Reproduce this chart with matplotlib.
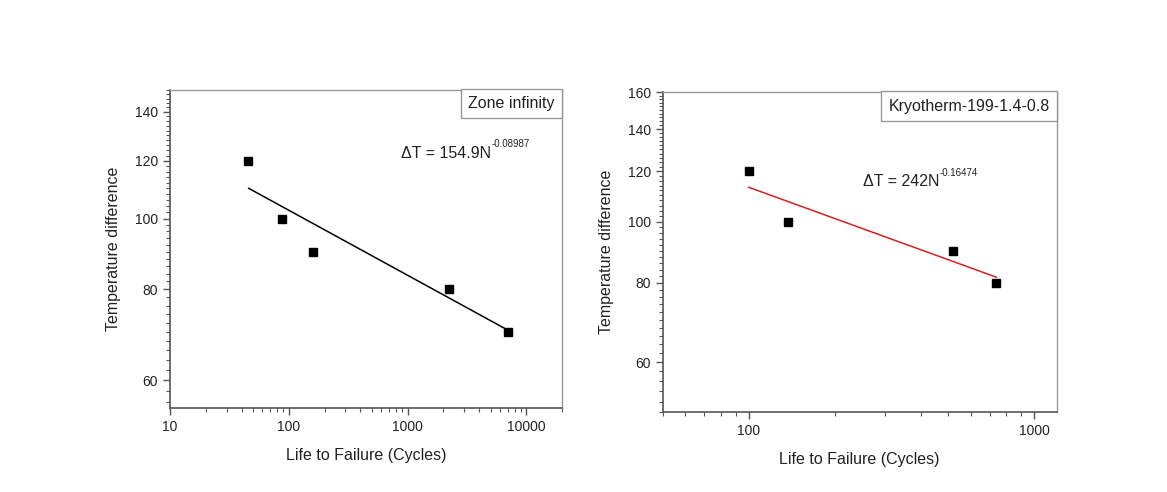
import numpy as np
import matplotlib
matplotlib.use("Agg")
import matplotlib.pyplot as plt
from matplotlib.ticker import FixedLocator, MultipleLocator, NullFormatter, FuncFormatter

plt.rcParams['font.family'] = ['Liberation Sans', 'DejaVu Sans']

# =============================
# DATA
# =============================
zone_cycles = [45.5, 88, 160, 2230, 7000]
zone_dt = [120, 100, 90, 80, 70]
zone_fit_x = [46, 6800]
zone_fit_y = [110, 70.5]

kryo_cycles = [100, 137, 520, 738]
kryo_dt = [120, 100, 90, 80]
kryo_fit_x = [100, 738]
kryo_fit_y = [113.3, 81.7]

zone_yticks = [60, 80, 100, 120, 140]
kryo_yticks = [60, 80, 100, 120, 140, 160]

# =============================
# FIGURE
# =============================
fig = plt.figure(figsize=(11.67, 4.92), dpi=100)
ax1 = fig.add_axes([0.1457, 0.1707, 0.3359, 0.6463])
ax2 = fig.add_axes([0.5679, 0.1620, 0.3376, 0.6504])

spine_col = "#555555"
text_col = "#222222"
plain = FuncFormatter(lambda v, p: f"{v:g}")


def style(ax, xlim, ylim, yticks):
    ax.set_xscale("log")
    ax.set_yscale("log")
    ax.set_xlim(*xlim)
    ax.set_ylim(*ylim)
    ax.yaxis.set_major_locator(FixedLocator(yticks))
    ax.yaxis.set_major_formatter(plain)
    ax.yaxis.set_minor_locator(MultipleLocator(2))
    ax.yaxis.set_minor_formatter(NullFormatter())
    ax.xaxis.set_major_formatter(plain)
    ax.xaxis.set_minor_formatter(NullFormatter())
    ax.tick_params(which="major", direction="out", length=5, width=1,
                   color=spine_col, labelsize=10, labelcolor=text_col)
    ax.tick_params(which="minor", direction="out", length=3, width=0.8,
                   color=spine_col)
    ax.tick_params(top=False, right=False, which="both")
    for s in ["left", "bottom"]:
        ax.spines[s].set_color(spine_col)
        ax.spines[s].set_linewidth(1.2)
    for s in ["top", "right"]:
        ax.spines[s].set_color("#999999")
        ax.spines[s].set_linewidth(1.0)
    ax.set_xlabel("Life to Failure (Cycles)", fontsize=11.5, color=text_col, labelpad=10)
    ax.set_ylabel("Temperature difference", fontsize=11.5, color=text_col, labelpad=10)


def equation(ax, x, y, base, power):
    t = ax.text(x, y, base, transform=ax.transAxes, fontsize=11.5,
                color=text_col, va="center")
    ax.annotate(power, xy=(1, 0.78), xycoords=t, xytext=(0.5, 0),
                textcoords="offset points", fontsize=7, color=text_col,
                va="bottom", ha="left")


def label_box(ax, txt, x):
    ax.text(x, 0.957, txt, transform=ax.transAxes, fontsize=11.5,
            ha="right", va="center", color=text_col,
            bbox=dict(boxstyle="square,pad=0.45", fc="white", ec="#999999", lw=1))


# -----------------------------
# LEFT: Zone infinity
# -----------------------------
style(ax1, (10, 20000), (55, 150), zone_yticks)
ax1.plot(zone_fit_x, zone_fit_y, color="black", lw=1.1)
ax1.plot(zone_cycles, zone_dt, "s", color="black", ms=6)
equation(ax1, 0.590, 0.80, "\u0394T = 154.9N", "-0.08987")
label_box(ax1, "Zone infinity", 0.982)

# -----------------------------
# RIGHT: Kryotherm
# -----------------------------
style(ax2, (50, 1200), (50, 160), kryo_yticks)
ax2.plot(kryo_fit_x, kryo_fit_y, color="#d62020", lw=1.1)
ax2.plot(kryo_cycles, kryo_dt, "s", color="black", ms=6)
equation(ax2, 0.508, 0.72, "\u0394T = 242N", "-0.16474")
label_box(ax2, "Kryotherm-199-1.4-0.8", 0.982)

fig.savefig("out.png", dpi=100, facecolor="white")
